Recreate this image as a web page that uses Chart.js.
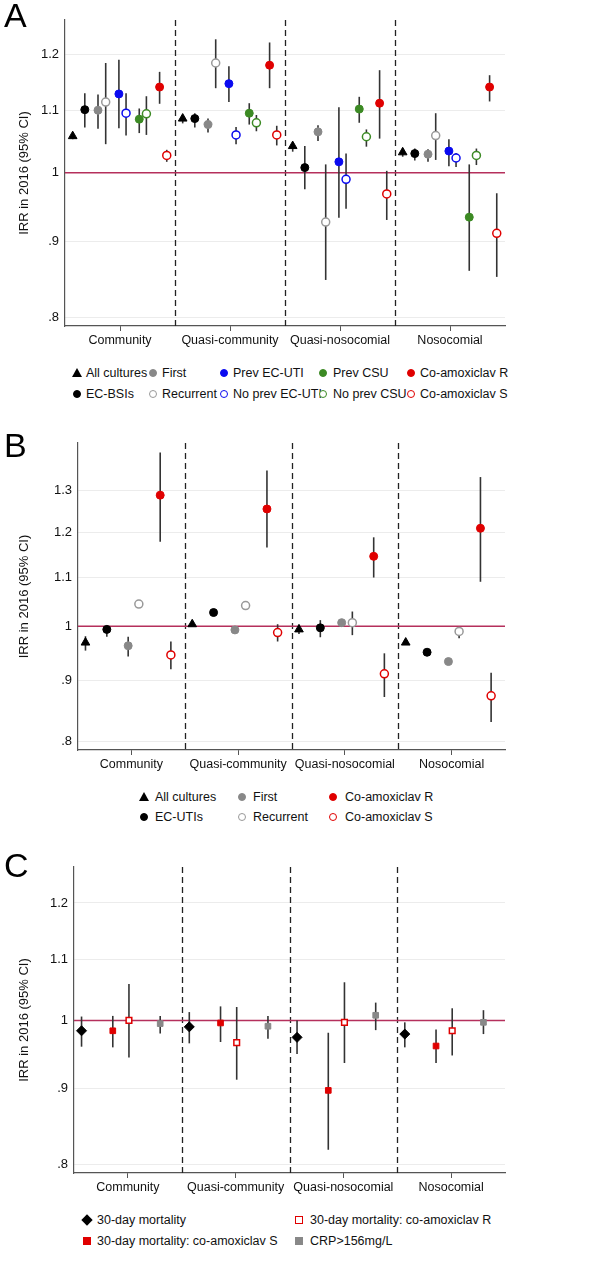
<!DOCTYPE html>
<html>
<head>
<meta charset="utf-8">
<script src="https://cdn.jsdelivr.net/npm/chart.js@4.4.1/dist/chart.umd.min.js"></script>
<style>
 body { margin:0; background:#fff; font-family:"Liberation Sans", Arial, sans-serif; }
 .panel { position:relative; width:591px; }
 .letter { position:absolute; left:4px; top:-4px; font-size:34px; color:#000; }
 .leg { position:absolute; font-size:12.5px; color:#111; white-space:nowrap; }
 .mk { position:absolute; display:inline-block; box-sizing:border-box; }
</style>
</head>
<body>
<div class="panel" id="pA" style="height:430px"><canvas id="cA"></canvas><div class="letter">A</div></div>
<div class="panel" id="pB" style="height:420px"><canvas id="cB"></canvas><div class="letter">B</div></div>
<div class="panel" id="pC" style="height:430px"><canvas id="cC"></canvas><div class="letter">C</div></div>
<script>
 // categories
 var groups = ["Community", "Quasi-community", "Quasi-nosocomial", "Nosocomial"];

 // ---------------- Panel A : EC-BSIs ----------------
 var seriesA = ["All cultures", "EC-BSIs", "First", "Recurrent", "Prev EC-UTI", "No prev EC-UTI", "Prev CSU", "No prev CSU", "Co-amoxiclav R", "Co-amoxiclav S"];
 var valuesA = [
     [1.058, 1.087, 1.042, 1.032],
     [1.102, 1.087, 1.008, 1.030],
     [1.101, 1.077, 1.065, 1.029],
     [1.115, 1.184, 0.927, 1.059],
     [1.129, 1.147, 1.017, 1.034],
     [1.096, 1.060, 0.990, 1.023],
     [1.086, 1.096, 1.103, 0.934],
     [1.095, 1.080, 1.057, 1.027],
     [1.141, 1.180, 1.113, 1.141],
     [1.027, 1.060, 0.968, 0.911]
 ];
 var lowA = [
     [1.053, 1.079, 1.033, 1.025],
     [1.072, 1.072, 0.975, 1.019],
     [1.070, 1.064, 1.050, 1.017],
     [1.045, 1.139, 0.848, 1.020],
     [1.071, 1.115, 0.933, 1.010],
     [1.059, 1.045, 0.946, 1.009],
     [1.063, 1.077, 1.080, 0.860],
     [1.060, 1.066, 1.041, 1.012],
     [1.112, 1.139, 1.054, 1.116],
     [1.017, 1.043, 0.930, 0.852]
 ];
 var highA = [
     [1.063, 1.093, 1.046, 1.038],
     [1.130, 1.096, 1.042, 1.038],
     [1.128, 1.087, 1.076, 1.037],
     [1.184, 1.228, 1.013, 1.096],
     [1.190, 1.178, 1.106, 1.053],
     [1.130, 1.073, 1.030, 1.031],
     [1.104, 1.113, 1.124, 1.013],
     [1.125, 1.093, 1.069, 1.038],
     [1.168, 1.222, 1.171, 1.162],
     [1.036, 1.075, 1.003, 0.969]
 ];

 // ---------------- Panel B : EC-UTIs ----------------
 var seriesB = ["All cultures", "EC-UTIs", "First", "Recurrent", "Co-amoxiclav R", "Co-amoxiclav S"];
 var valuesB = [
     [0.969, 1.004, 0.994, 0.969],
     [0.994, 1.027, 0.997, 0.951],
     [0.963, 0.993, 1.007, 0.934],
     [1.044, 1.041, 1.007, 0.990],
     [1.289, 1.255, 1.145, 1.209],
     [0.946, 0.988, 0.912, 0.874]
 ];
 var lowB = [
     [0.954, 1.000, 0.985, 0.966],
     [0.980, 1.024, 0.979, 0.948],
     [0.943, 0.987, 1.001, 0.929],
     [1.039, 1.035, 0.983, 0.977],
     [1.178, 1.165, 1.099, 1.090],
     [0.920, 0.971, 0.872, 0.831]
 ];
 var highB = [
     [0.981, 1.007, 1.003, 0.972],
     [1.001, 1.030, 1.012, 0.954],
     [0.980, 0.998, 1.012, 0.938],
     [1.049, 1.047, 1.029, 0.996],
     [1.400, 1.352, 1.188, 1.335],
     [0.971, 1.004, 0.949, 0.914]
 ];

 // ---------------- Panel C : outcomes ----------------
 var seriesC = ["30-day mortality", "30-day mortality: co-amoxiclav S", "30-day mortality: co-amoxiclav R", "CRP>156mg/L"];
 var valuesC = [
     [0.984, 0.990, 0.974, 0.979],
     [0.984, 0.996, 0.897, 0.961],
     [1.000, 0.966, 0.997, 0.984],
     [0.995, 0.991, 1.008, 0.997]
 ];
 var lowC = [
     [0.960, 0.965, 0.949, 0.959],
     [0.959, 0.967, 0.818, 0.936],
     [0.944, 0.912, 0.936, 0.947],
     [0.980, 0.972, 0.985, 0.979]
 ];
 var highC = [
     [1.006, 1.013, 1.000, 0.997],
     [1.007, 1.022, 0.981, 0.986],
     [1.058, 1.021, 1.061, 1.019],
     [1.007, 1.007, 1.028, 1.016]
 ];

 //--------------------------------------- styles ----------------------------------------
 var BLK = '#000', GRY = '#888', BLU = '#0a0af0', GRN = '#3c8a24', RED = '#e00000';
 var stylesA = [
     {pt: 'triangle', col: BLK, open: false, off: 0.07},
     {pt: 'circle', col: BLK, open: false, off: 0.18},
     {pt: 'circle', col: GRY, open: false, off: 0.30},
     {pt: 'circle', col: '#999', open: true, off: 0.37},
     {pt: 'circle', col: BLU, open: false, off: 0.49},
     {pt: 'circle', col: BLU, open: true, off: 0.555},
     {pt: 'circle', col: GRN, open: false, off: 0.675},
     {pt: 'circle', col: GRN, open: true, off: 0.74},
     {pt: 'circle', col: RED, open: false, off: 0.86},
     {pt: 'circle', col: RED, open: true, off: 0.925}
 ];
 var stylesB = [
     {pt: 'triangle', col: BLK, open: false, off: 0.07},
     {pt: 'circle', col: BLK, open: false, off: 0.27},
     {pt: 'circle', col: GRY, open: false, off: 0.47},
     {pt: 'circle', col: '#999', open: true, off: 0.57},
     {pt: 'circle', col: RED, open: false, off: 0.77},
     {pt: 'circle', col: RED, open: true, off: 0.87}
 ];
 var stylesC = [
     {pt: 'rectRot', col: BLK, open: false, off: 0.07},
     {pt: 'rect', col: RED, open: false, off: 0.36},
     {pt: 'rect', col: RED, open: true, off: 0.51},
     {pt: 'rect', col: GRY, open: false, off: 0.80}
 ];

 function fmtTick(v) {
     var s = (Math.round(v * 10) / 10).toString();
     return s.replace(/^0\./, '.');
 }

 // error bars, dashed separators and reference line at 1, all through the scales
 var irrPlugin = {
     id: 'irr',
     beforeDatasetsDraw: function (chart) {
         var ctx = chart.ctx, xs = chart.scales.x, ys = chart.scales.y, a = chart.chartArea;
         ctx.save();
         ctx.strokeStyle = '#222';
         ctx.lineWidth = 1.3;
         ctx.setLineDash([6, 4]);
         for (var g = 1; g < groups.length; g++) {
             var px = Math.round(xs.getPixelForValue(g)) + 0.5;
             ctx.beginPath(); ctx.moveTo(px, a.top); ctx.lineTo(px, a.bottom); ctx.stroke();
         }
         ctx.setLineDash([]);
         ctx.strokeStyle = '#b5305c';
         ctx.lineWidth = 1.5;
         var py = ys.getPixelForValue(1);
         ctx.beginPath(); ctx.moveTo(a.left, py); ctx.lineTo(a.right, py); ctx.stroke();
         ctx.strokeStyle = '#333';
         ctx.lineWidth = 1.6;
         chart.data.datasets.forEach(function (ds) {
             ds.data.forEach(function (p) {
                 var x = xs.getPixelForValue(p.x);
                 ctx.beginPath();
                 ctx.moveTo(x, ys.getPixelForValue(p.lo));
                 ctx.lineTo(x, ys.getPixelForValue(p.hi));
                 ctx.stroke();
             });
         });
         ctx.restore();
     }
 };

 function FaitPanneau(id, height, names, vals, lo, hi, styles, ymin, ymax, yticks, left, top, bottom) {
     var canvas = document.getElementById(id);
     canvas.width = 591; canvas.height = height;
     canvas.style.width = '591px'; canvas.style.height = height + 'px';
     var datasets = [];
     for (var i = 0; i < names.length; i++) {
         var st = styles[i];
         var pts = [];
         for (var g = 0; g < groups.length; g++) {
             pts.push({x: g + st.off, y: vals[i][g], lo: lo[i][g], hi: hi[i][g]});
         }
         datasets.push({
             label: names[i],
             data: pts,
             pointStyle: st.pt,
             pointRadius: st.pt == 'triangle' ? 5 : (st.pt == 'rectRot' ? 5 : 4),
             backgroundColor: st.open ? '#fff' : st.col,
             borderColor: st.col,
             borderWidth: st.open ? 1.5 : 1,
             showLine: false
         });
     }
     return new Chart(canvas.getContext('2d'), {
         type: 'scatter',
         data: {datasets: datasets},
         plugins: [irrPlugin],
         options: {
             responsive: false,
             animation: false,
             layout: {padding: {left: 15, right: 86, top: top, bottom: 0}},
             plugins: {legend: {display: false}, tooltip: {enabled: false}},
             scales: {
                 x: {
                     type: 'linear', min: 0, max: 4,
                     afterBuildTicks: function (s) { s.ticks = [0.5, 1.5, 2.5, 3.5].map(function (v) { return {value: v}; }); },
                     afterFit: function (s) { s.height = height - bottom; s.paddingLeft = 0; s.paddingRight = 0; },
                     ticks: {color: '#111', font: {size: 12.5, family: 'Liberation Sans'}, padding: 2, maxRotation: 0, autoSkip: false,
                         callback: function (v) { return groups[Math.floor(v)]; }},
                     grid: {drawOnChartArea: false, tickLength: 5, color: '#555'},
                     border: {display: true, color: '#555', width: 1.2}
                 },
                 y: {
                     type: 'logarithmic', min: ymin, max: ymax,
                     afterBuildTicks: function (s) { s.ticks = yticks.map(function (v) { return {value: v}; }); },
                     afterFit: function (s) { s.width = left - 15; s.paddingTop = 0; s.paddingBottom = 0; },
                     ticks: {color: '#111', font: {size: 13, family: 'Liberation Sans'}, padding: 6,
                         callback: function (v) { return fmtTick(v); }},
                     grid: {color: '#ececec', lineWidth: 1, drawTicks: false},
                     border: {display: true, color: '#555', width: 1.2},
                     title: {display: true, text: 'IRR in 2016 (95% CI)', color: '#111', font: {size: 13, family: 'Liberation Sans'}, padding: 2}
                 }
             }
         }
     });
 }

 function Legende(panel, items) {
     var p = document.getElementById(panel);
     items.forEach(function (it) {
         var m = document.createElement('span');
         m.className = 'mk';
         var c = it.st.col;
         if (it.st.pt == 'triangle') {
             m.style.cssText += 'width:0;height:0;border-left:5px solid transparent;border-right:5px solid transparent;border-bottom:9px solid ' + c + ';';
             m.style.left = (it.mx - 5) + 'px'; m.style.top = (it.y - 6) + 'px';
         } else if (it.st.pt == 'rectRot') {
             m.style.cssText += 'width:8px;height:8px;transform:rotate(45deg);background:' + c + ';';
             m.style.left = (it.mx - 4) + 'px'; m.style.top = (it.y - 5) + 'px';
         } else {
             var r = it.st.pt == 'rect' ? '0' : '50%';
             m.style.cssText += 'width:8px;height:8px;border-radius:' + r + ';border:1.5px solid ' + c + ';background:' + (it.st.open ? '#fff' : c) + ';';
             m.style.left = (it.mx - 4) + 'px'; m.style.top = (it.y - 5) + 'px';
         }
         p.appendChild(m);
         var t = document.createElement('span');
         t.className = 'leg';
         t.textContent = it.txt;
         t.style.left = it.tx + 'px'; t.style.top = (it.y - 8) + 'px';
         p.appendChild(t);
     });
 }

 FaitPanneau('cA', 350, seriesA, valuesA, lowA, highA, stylesA, 0.79, 1.265, [0.8, 0.9, 1, 1.1, 1.2], 65, 20, 326);
 FaitPanneau('cB', 350, seriesB, valuesB, lowB, highB, stylesB, 0.787, 1.426, [0.8, 0.9, 1, 1.1, 1.2, 1.3], 78, 13, 320);
 FaitPanneau('cC', 350, seriesC, valuesC, lowC, highC, stylesC, 0.789, 1.269, [0.8, 0.9, 1, 1.1, 1.2], 74, 17, 323);

 // legend positions A
 var colA = [[77, 86], [153, 162], [224, 233], [323, 333], [411, 420]];
 var itemsA = [];
 for (var i = 0; i < seriesA.length; i++) {
     var col = Math.floor(i / 2), row = i % 2;
     itemsA.push({st: stylesA[i], txt: seriesA[i], mx: colA[col][0], tx: colA[col][1], y: row ? 395 : 374});
 }
 Legende('pA', itemsA);
 var colB = [[144, 155], [242, 253], [333, 345]];
 var itemsB = [];
 for (var i = 0; i < seriesB.length; i++) {
     var col = Math.floor(i / 2), row = i % 2;
     itemsB.push({st: stylesB[i], txt: seriesB[i], mx: colB[col][0], tx: colB[col][1], y: row ? 388 : 368});
 }
 Legende('pB', itemsB);
 var ordC = [[0, 0, 0], [2, 1, 0], [1, 0, 1], [3, 1, 1]];
 var colC = [[87, 97], [299, 310]];
 var itemsC = ordC.map(function (o) {
     return {st: stylesC[o[0]], txt: seriesC[o[0]], mx: colC[o[1]][0], tx: colC[o[1]][1], y: o[2] ? 392 : 371};
 });
 Legende('pC', itemsC);
</script>
</body>
</html>
